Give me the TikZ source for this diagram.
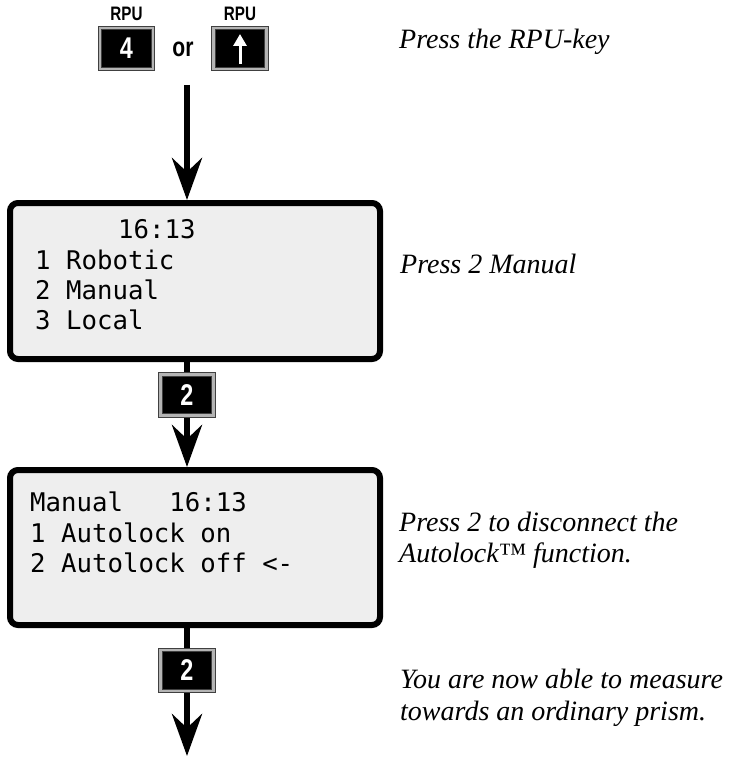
\documentclass[tikz,border=0pt]{standalone}
\usepackage{fontspec}
\setmainfont{Liberation Serif}
\newfontfamily\lcdfont{DejaVu Sans Mono}
\newfontfamily\keyfont[FakeStretch=0.78]{Liberation Sans}
\usetikzlibrary{arrows.meta}
\definecolor{lcdbg}{HTML}{EEEEEE}
\definecolor{keyframe}{HTML}{B4B4B4}
\tikzset{
  lcdbox/.style={draw=black, line width=6pt, fill=lcdbg, rounded corners=8pt,
    rectangle, minimum width=370pt, inner sep=0pt},
  lcdline/.style={anchor=base west, inner sep=0pt,
    font=\lcdfont\fontsize{25.7}{30}\selectfont},
  keybox/.style={rectangle, fill=black, draw=black!75, line width=0.8pt,
    double=keyframe, double distance=2.5pt, minimum width=53pt,
    minimum height=41pt, inner sep=0pt, outer sep=2.1pt,
    text=white, font=\keyfont\bfseries\fontsize{30}{30}\selectfont},
  keylabel/.style={anchor=base, inner sep=0pt,
    font=\keyfont\bfseries\fontsize{19.5}{20}\selectfont},
  note/.style={anchor=base west, inner sep=0pt,
    font=\itshape\fontsize{28}{31}\selectfont},
  flow/.style={line width=6pt},
  flowarrow/.style={line width=6pt, -{Stealth[length=42pt,width=30pt,inset=14pt]}},
}
\begin{document}
\begin{tikzpicture}[x=1pt,y=-1pt]
\useasboundingbox (0,0) rectangle (740,757);

% keys at the top
\node[keybox] (k1) at (126.5,48.5) {4};
\node[keylabel] (l1) at (126.5,21) {RPU};
\node[keylabel, font=\keyfont\bfseries\fontsize{27}{27}\selectfont] (or) at (183,57) {or};
\node[keybox] (k2) at (240,48.5) {};
\node[keylabel] (l2) at (240,21) {RPU};
\draw[white, line width=3pt, -{Triangle[length=12pt,width=13pt]}] (240,64) -- (240,34);

% first display
\node[lcdbox, minimum height=156pt] (box1) at (195,281) {};
\node[lcdline] (b1a) at (118,238) {16:13};
\node[lcdline] (b1b) at (35,269) {1 Robotic};
\node[lcdline] (b1c) at (35,299) {2 Manual};
\node[lcdline] (b1d) at (35,329) {3 Local};

% key between displays
\node[keybox] (k3) at (187,395) {2};

% second display
\node[lcdbox, minimum height=155pt] (box2) at (195,547.5) {};
\node[lcdline] (b2a) at (30,511) {Manual\ \ \ 16:13};
\node[lcdline] (b2b) at (30,542) {1 Autolock on};
\node[lcdline] (b2c) at (30,572) {2 Autolock off <-};

% bottom key
\node[keybox] (k4) at (187,670.5) {2};

% connectors
\coordinate (start) at (187,85);
\coordinate (finish) at (187,756);
\draw[flowarrow] (start) -- (start |- box1.north);
\draw[flow] (k3.north |- box1.south) -- (k3.north);
\draw[flowarrow] (k3.south) -- (k3.south |- box2.north);
\draw[flow] (k4.north |- box2.south) -- (k4.north);
\draw[flowarrow] (k4.south) -- (finish);

% notes
\node[note] (n1) at (399,49) {Press the RPU-key};
\node[note] (n2) at (400,273) {Press 2 Manual};
\node[note] (n3a) at (399,531) {Press 2 to disconnect the};
\node[note] (n3b) at (399,562) {Autolock™ function.};
\node[note] (n4a) at (400,688) {You are now able to measure};
\node[note] (n4b) at (400,720) {towards an ordinary prism.};
\end{tikzpicture}
\end{document}
